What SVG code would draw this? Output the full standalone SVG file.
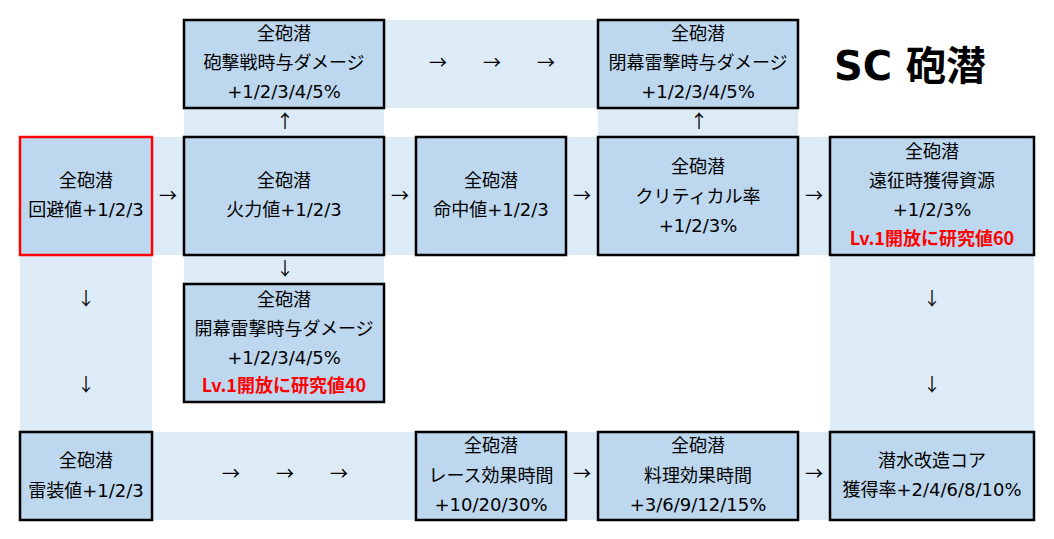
<svg xmlns="http://www.w3.org/2000/svg" width="1054" height="539" viewBox="0 0 1054 539">
<style>
.band{fill:#DDEBF7}
.box{fill:#BDD7EE;stroke:#000;stroke-width:2.5}
.start{fill:#BDD7EE;stroke:#FF0000;stroke-width:2.5}
text{font-family:"DejaVu Sans","Noto Sans CJK JP",sans-serif;font-size:18px;fill:#000;text-anchor:middle}
.red{font-family:"Noto Sans CJK JP","Noto Sans",sans-serif;fill:#FF0000;font-weight:bold}
.title{font-family:"DejaVu Sans","Noto Sans CJK JP",sans-serif;font-size:40px;font-weight:bold;text-anchor:start}
.arr{font-family:"Noto Sans CJK JP",sans-serif;font-size:18px}
</style>
<rect width="1054" height="539" fill="#FFFFFF"/>
<g id="bands">
<rect class="band" x="384" y="20" width="214" height="88"/>
<rect class="band" x="184" y="108" width="200" height="29"/>
<rect class="band" x="598" y="108" width="200" height="29"/>
<rect class="band" x="20" y="137" width="1014" height="118"/>
<rect class="band" x="20" y="255" width="132" height="177"/>
<rect class="band" x="184" y="255" width="200" height="29"/>
<rect class="band" x="830" y="255" width="204" height="177"/>
<rect class="band" x="20" y="432" width="1014" height="88"/>
</g>
<g id="connectors">
<text class="arr" x="438" y="69">→</text>
<text class="arr" x="492" y="69">→</text>
<text class="arr" x="546" y="69">→</text>
<text class="arr" x="285" y="128">↑</text>
<text class="arr" x="699" y="128">↑</text>
<text class="arr" x="168" y="202">→</text>
<text class="arr" x="400" y="202">→</text>
<text class="arr" x="582" y="202">→</text>
<text class="arr" x="814" y="202">→</text>
<text class="arr" x="285" y="275">↓</text>
<text class="arr" x="86" y="305">↓</text>
<text class="arr" x="86" y="391">↓</text>
<text class="arr" x="932" y="305">↓</text>
<text class="arr" x="932" y="391">↓</text>
<text class="arr" x="231" y="480">→</text>
<text class="arr" x="285" y="480">→</text>
<text class="arr" x="339" y="480">→</text>
<text class="arr" x="582" y="480">→</text>
<text class="arr" x="814" y="480">→</text>
</g>
<g id="n_shell">
<rect class="box" x="184" y="20" width="200" height="88"/>
<text x="284" y="40">全砲潜</text>
<text x="284" y="69">砲撃戦時与ダメージ</text>
<text x="284" y="98">+1/2/3/4/5%</text>
</g>
<g id="n_closing">
<rect class="box" x="598" y="20" width="200" height="88"/>
<text x="698" y="40">全砲潜</text>
<text x="698" y="69">閉幕雷撃時与ダメージ</text>
<text x="698" y="98">+1/2/3/4/5%</text>
</g>
<g id="n_evasion">
<rect class="start" x="20" y="137" width="132" height="118"/>
<text x="86" y="187">全砲潜</text>
<text x="86" y="216">回避値+1/2/3</text>
</g>
<g id="n_firepower">
<rect class="box" x="184" y="137" width="200" height="118"/>
<text x="284" y="187">全砲潜</text>
<text x="284" y="216">火力値+1/2/3</text>
</g>
<g id="n_accuracy">
<rect class="box" x="416" y="137" width="150" height="118"/>
<text x="491" y="187">全砲潜</text>
<text x="491" y="216">命中値+1/2/3</text>
</g>
<g id="n_critical">
<rect class="box" x="598" y="137" width="200" height="118"/>
<text x="698" y="173">全砲潜</text>
<text x="698" y="203">クリティカル率</text>
<text x="698" y="232">+1/2/3%</text>
</g>
<g id="n_expedition">
<rect class="box" x="830" y="137" width="204" height="118"/>
<text x="932" y="158">全砲潜</text>
<text x="932" y="187">遠征時獲得資源</text>
<text x="932" y="216">+1/2/3%</text>
<text class="red" x="932" y="245">Lv.1開放に研究値60</text>
</g>
<g id="n_opening">
<rect class="box" x="184" y="284" width="200" height="118"/>
<text x="284" y="306">全砲潜</text>
<text x="284" y="335">開幕雷撃時与ダメージ</text>
<text x="284" y="364">+1/2/3/4/5%</text>
<text class="red" x="284" y="392">Lv.1開放に研究値40</text>
</g>
<g id="n_torpedo">
<rect class="box" x="20" y="432" width="132" height="88"/>
<text x="86" y="467">全砲潜</text>
<text x="86" y="497">雷装値+1/2/3</text>
</g>
<g id="n_race">
<rect class="box" x="416" y="432" width="150" height="88"/>
<text x="491" y="452">全砲潜</text>
<text x="491" y="482">レース効果時間</text>
<text x="491" y="511">+10/20/30%</text>
</g>
<g id="n_cooking">
<rect class="box" x="598" y="432" width="200" height="88"/>
<text x="698" y="452">全砲潜</text>
<text x="698" y="482">料理効果時間</text>
<text x="698" y="511">+3/6/9/12/15%</text>
</g>
<g id="n_core">
<rect class="box" x="830" y="432" width="204" height="88"/>
<text x="932" y="467">潜水改造コア</text>
<text x="932" y="496">獲得率+2/4/6/8/10%</text>
</g>
<g id="title">
<text class="title" x="834" y="80">SC 砲潜</text>
</g>
</svg>
